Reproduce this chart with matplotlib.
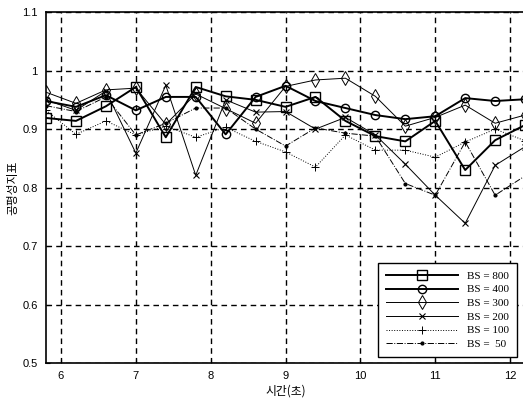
import matplotlib
matplotlib.use("Agg")
import matplotlib.pyplot as plt
import numpy as np

# time axis (s) and fairness index for each buffer size
t = [5.8, 6.2, 6.6, 7.0, 7.4, 7.8, 8.2, 8.6, 9.0, 9.4, 9.8, 10.2, 10.6, 11.0, 11.4, 11.8, 12.2]
bs800 = [0.919, 0.914, 0.939, 0.972, 0.886, 0.972, 0.956, 0.950, 0.938, 0.955, 0.914, 0.888, 0.879, 0.914, 0.830, 0.881, 0.907]
bs400 = [0.948, 0.938, 0.958, 0.932, 0.955, 0.955, 0.891, 0.955, 0.974, 0.948, 0.936, 0.924, 0.917, 0.922, 0.953, 0.948, 0.951]
bs300 = [0.963, 0.944, 0.967, 0.970, 0.908, 0.960, 0.935, 0.910, 0.973, 0.984, 0.987, 0.956, 0.905, 0.920, 0.941, 0.910, 0.924]
bs200 = [0.950, 0.932, 0.965, 0.859, 0.975, 0.821, 0.950, 0.929, 0.930, 0.900, 0.920, 0.890, 0.840, 0.787, 0.739, 0.838, 0.870]
bs100 = [0.932, 0.891, 0.914, 0.890, 0.905, 0.886, 0.903, 0.879, 0.861, 0.835, 0.890, 0.864, 0.864, 0.852, 0.878, 0.900, 0.880]
bs50 = [0.940, 0.930, 0.955, 0.890, 0.910, 0.936, 0.936, 0.900, 0.871, 0.902, 0.893, 0.888, 0.807, 0.787, 0.878, 0.787, 0.820]

labels = ["BS = 800", "BS = 400", "BS = 300", "BS = 200", "BS = 100", "BS =  50"]
xticks = [6, 7, 8, 9, 10, 11, 12]
yticks = [0.5, 0.6, 0.7, 0.8, 0.9, 1.0, 1.1]
ytick_labels = ["0.5", "0.6", "0.7", "0.8", "0.9", "1", "1.1"]

fig = plt.figure(figsize=(5.23, 4.03), dpi=100)
ax = fig.add_axes([0.088, 0.099, 0.916, 0.871])

ax.plot(t, bs800, color="black", lw=1.4, ls="-", marker="s", ms=7, mfc="none", mew=1.0, label=labels[0])
ax.plot(t, bs400, color="black", lw=1.4, ls="-", marker="o", ms=6, mfc="none", mew=1.0, label=labels[1])
ax.plot(t, bs300, color="black", lw=0.7, ls="-", marker="d", ms=7, mfc="none", mew=0.7, label=labels[2])
ax.plot(t, bs200, color="black", lw=0.7, ls="-", marker="x", ms=4, mew=0.8, label=labels[3])
ax.plot(t, bs100, color="black", lw=0.7, ls=":", marker="+", ms=6, mew=0.7, label=labels[4])
ax.plot(t, bs50, color="black", lw=0.7, ls="-.", marker=".", ms=4, label=labels[5])

ax.set_xlim(5.8, 12.2)
ax.set_ylim(0.5, 1.1)
ax.set_xticks(xticks)
ax.set_yticks(yticks)
ax.set_yticklabels(ytick_labels)
ax.tick_params(labelsize=8, direction="in", length=3, width=0.8, pad=6)
for lab in ax.get_xticklabels() + ax.get_yticklabels():
    lab.set_family("Liberation Sans")
ax.grid(True, color="black", ls=(0, (4, 3)), lw=1.0)
for s in ax.spines.values():
    s.set_linewidth(1.2)

ax.set_xlabel("시간(초)", family=["Noto Sans CJK KR", "DejaVu Sans"], fontsize=8.5, labelpad=2)
ax.set_ylabel("공평성지표", family=["Noto Sans CJK KR", "DejaVu Sans"], fontsize=8.5, labelpad=2)

leg = ax.legend(loc="lower right", bbox_to_anchor=(0.995, 0.002), prop={"family": "Liberation Serif", "size": 8},
                handlelength=6.5, labelspacing=0.35, borderpad=0.7, fancybox=False, framealpha=1, edgecolor="black")
leg.get_frame().set_linewidth(1.0)

fig.savefig("out.png", dpi=100)
